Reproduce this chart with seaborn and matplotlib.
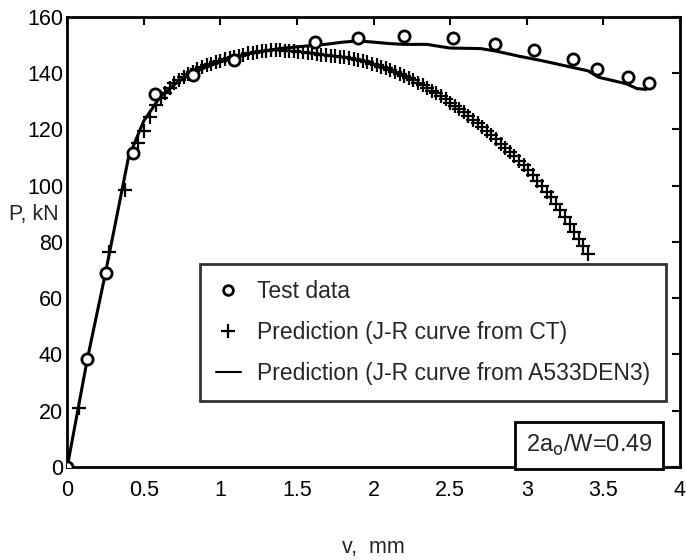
import pandas as pd
import matplotlib
matplotlib.use("Agg")
import matplotlib.pyplot as plt
import seaborn as sns
from matplotlib.lines import Line2D

# Test data (circles)
test_v = [0.0, 0.13, 0.25, 0.43, 0.57, 0.82, 1.09, 1.62, 1.90, 2.20, 2.52, 2.79,
          3.05, 3.30, 3.46, 3.66, 3.80]
test_p = [0.0, 38.5, 69.0, 111.7, 132.7, 139.3, 144.5, 151.0, 152.5, 153.3, 152.6,
          150.4, 148.1, 145.0, 141.4, 138.7, 136.3]

# Prediction, J-R curve from CT (plus markers)
ct_v = [0.0, 0.075, 0.275, 0.38, 0.46, 0.50, 0.54, 0.58, 0.61, 0.64, 0.67, 0.70,
        0.73, 0.76, 0.79, 0.82, 0.85, 0.88, 0.91, 0.94, 0.97, 1.00, 1.03, 1.06,
        1.09, 1.12, 1.15, 1.18, 1.21, 1.24, 1.27, 1.30, 1.33, 1.36, 1.39, 1.42,
        1.45, 1.48, 1.51, 1.54, 1.57, 1.60, 1.63, 1.66, 1.69, 1.72, 1.75, 1.78,
        1.81, 1.84, 1.87, 1.90, 1.93, 1.96, 1.99, 2.02, 2.05, 2.08, 2.11, 2.14,
        2.17, 2.20, 2.23, 2.26, 2.29, 2.32, 2.35, 2.38, 2.41, 2.44, 2.47, 2.50,
        2.53, 2.56, 2.59, 2.62, 2.65, 2.68, 2.71, 2.74, 2.77, 2.80, 2.83, 2.86,
        2.89, 2.92, 2.95, 2.98, 3.01, 3.04, 3.07, 3.10, 3.13, 3.16, 3.19, 3.22,
        3.25, 3.28, 3.31, 3.34, 3.37, 3.40]
ct_p = [0.0, 21.0, 76.3, 98.5, 115.0, 119.5, 124.4, 128.8, 131.0, 133.0, 134.8, 136.3,
        137.5, 138.6, 139.6, 140.5, 141.3, 142.0, 142.7, 143.3, 143.9, 144.4, 144.9, 145.4,
        145.8, 146.2, 146.6, 147.0, 147.3, 147.6, 147.8, 148.0, 148.1, 148.1, 148.1, 148.0,
        147.9, 147.8, 147.6, 147.4, 147.2, 147.0, 146.8, 146.6, 146.4, 146.2, 146.0, 145.8,
        145.6, 145.3, 145.0, 144.6, 144.2, 143.8, 143.3, 142.8, 142.3, 141.7, 141.1, 140.5,
        139.8, 139.0, 138.2, 137.4, 136.6, 135.7, 134.8, 133.8, 132.8, 131.8, 130.7, 129.5,
        128.4, 127.2, 126.0, 124.8, 123.5, 122.2, 120.8, 119.4, 117.9, 116.4, 114.9, 113.4,
        111.9, 110.4, 108.8, 107.2, 105.5, 103.7, 101.8, 99.9, 97.9, 95.8, 93.6, 91.3,
        88.9, 86.3, 83.7, 81.0, 78.5, 75.8]

# Prediction, J-R curve from A533DEN3 (solid line)
den_v = [0.0, 0.13, 0.25, 0.40, 0.50, 0.60, 0.70, 0.80, 0.90, 1.00, 1.10, 1.20,
         1.30, 1.40, 1.50, 1.60, 1.70, 1.80, 1.90, 2.00, 2.10, 2.20, 2.35, 2.45,
         2.50, 2.70, 2.80, 2.95, 3.10, 3.25, 3.40, 3.47, 3.55, 3.65, 3.72, 3.78]
den_p = [0.0, 38.0, 69.0, 110.0, 123.0, 131.0, 136.0, 139.5, 142.0, 144.0, 145.5, 147.0,
         148.0, 148.8, 149.3, 149.8, 150.3, 151.0, 151.4, 151.0, 150.5, 150.2, 150.2, 149.3,
         148.9, 148.7, 147.8, 146.0, 144.4, 142.6, 140.8, 138.5, 137.5, 136.2, 134.5, 134.2]

sns.set_theme(style="white")
plt.rcParams["font.family"] = ["Liberation Sans", "DejaVu Sans"]

fig, ax = plt.subplots(figsize=(6.86, 5.6), dpi=100)
fig.subplots_adjust(left=0.098, right=0.991, top=0.970, bottom=0.166)

sns.lineplot(x=den_v, y=den_p, ax=ax, color="black", lw=2.2, sort=False,
             estimator=None)
sns.scatterplot(x=ct_v, y=ct_p, ax=ax, marker="+", s=110, color="black",
                linewidth=1.6)
sns.scatterplot(x=test_v, y=test_p, ax=ax, marker="o", s=65, facecolor="white",
                edgecolor="black", linewidth=2.0, zorder=5)

ax.set_xlim(0, 4)
ax.set_ylim(0, 160)
ax.set_xticks([0, 0.5, 1, 1.5, 2, 2.5, 3, 3.5, 4])
ax.set_xticklabels(["0", "0.5", "1", "1.5", "2", "2.5", "3", "3.5", "4"])
ax.set_yticks(range(0, 161, 20))
ax.tick_params(direction="in", length=6, width=1.5, labelsize=15.5, top=True,
               right=True, colors="black")
ax.tick_params(axis="x", pad=9)
ax.tick_params(axis="y", pad=3)
for sp in ax.spines.values():
    sp.set_linewidth(2)
    sp.set_color("black")

ax.set_xlabel("v,  mm", fontsize=15.5, labelpad=26)
# sits in the gap between the 100 and 80 tick labels
ax.set_ylabel("P, kN", fontsize=15.5, rotation=0)
ax.yaxis.set_label_coords(-0.055, 0.537)

handles = [
    Line2D([], [], ls="none", marker="o", mfc="white", mec="black", mew=2, ms=7),
    Line2D([], [], ls="none", marker="+", color="black", mew=1.6, ms=10),
    Line2D([], [], color="black", lw=1.5),
]
labels = ["Test data", "Prediction (J-R curve from CT)",
          "Prediction (J-R curve from A533DEN3)"]
leg = ax.legend(handles, labels, loc="upper left", bbox_to_anchor=(0.216, 0.452),
                fontsize=16.5, frameon=True, fancybox=False, handlelength=1.1,
                handletextpad=0.7, borderpad=0.7, labelspacing=0.8,
                borderaxespad=0)
leg.get_frame().set_edgecolor("black")
leg.get_frame().set_linewidth(2)

ax.text(0.956, 0.048, r"2a$_\mathrm{o}$/W=0.49", transform=ax.transAxes,
        ha="right", va="center", fontsize=17,
        bbox=dict(boxstyle="square,pad=0.45", fc="white", ec="black", lw=2))

fig.savefig("out.png", dpi=100)
